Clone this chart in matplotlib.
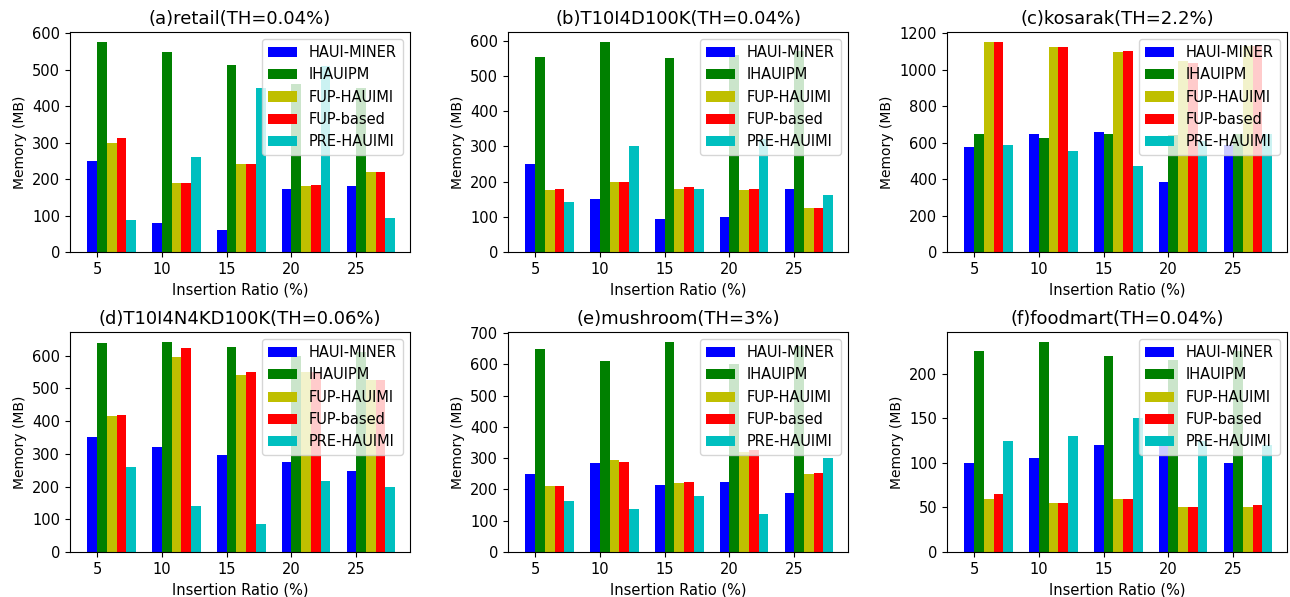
import matplotlib
matplotlib.use("Agg")
import matplotlib.pyplot as plt
from matplotlib.ticker import MultipleLocator
import numpy as np

# ---------- data ----------
ratios = [5, 10, 15, 20, 25]
methods = ["HAUI-MINER", "IHAUIPM", "FUP-HAUIMI", "FUP-based", "PRE-HAUIMI"]
colors = ["b", "g", "y", "r", "c"]

titles = [
    "(a)retail(TH=0.04%)",
    "(b)T10I4D100K(TH=0.04%)",
    "(c)kosarak(TH=2.2%)",
    "(d)T10I4N4KD100K(TH=0.06%)",
    "(e)mushroom(TH=3%)",
    "(f)foodmart(TH=0.04%)",
]

# one list per method, rows follow `methods`
retail = [
    [250, 80, 60, 172, 180],
    [575, 550, 512, 460, 450],
    [300, 190, 242, 180, 220],
    [312, 190, 242, 185, 220],
    [87, 260, 450, 510, 92],
]
t10i4d100k = [
    [250, 150, 95, 100, 180],
    [555, 595, 552, 560, 570],
    [175, 200, 180, 175, 125],
    [180, 200, 185, 180, 125],
    [142, 300, 180, 320, 162],
]
kosarak = [
    [575, 650, 660, 385, 590],
    [650, 625, 650, 640, 645],
    [1150, 1125, 1100, 1050, 1130],
    [1150, 1125, 1105, 1040, 1130],
    [590, 555, 470, 610, 645],
]
t10i4n4kd100k = [
    [350, 320, 297, 275, 248],
    [637, 640, 625, 600, 610],
    [415, 595, 540, 550, 525],
    [420, 622, 550, 550, 525],
    [260, 140, 85, 218, 200],
]
mushroom = [
    [250, 285, 213, 225, 188],
    [650, 610, 670, 600, 660],
    [210, 295, 220, 320, 250],
    [210, 288, 225, 325, 253],
    [163, 138, 178, 120, 300],
]
foodmart = [
    [100, 105, 120, 120, 100],
    [225, 235, 220, 215, 225],
    [60, 55, 60, 50, 50],
    [65, 55, 60, 50, 53],
    [125, 130, 150, 125, 120],
]
datasets = [retail, t10i4d100k, kosarak, t10i4n4kd100k, mushroom, foodmart]
ytick_step = [None, None, None, None, 100, None]

# ---------- figure ----------
fig = plt.figure(figsize=(12.9, 5.97), dpi=100)

W, H = 1290, 597
col_left = [70, 508, 947]
row_top = [32, 332]
ax_w, ax_h = 340, 220

width = 0.75
x = np.array(ratios, dtype=float)

for k, (title, data) in enumerate(zip(titles, datasets)):
    r, c = divmod(k, 3)
    ax = fig.add_axes([col_left[c] / W, 1 - (row_top[r] + ax_h) / H, ax_w / W, ax_h / H])
    for i, (name, vals) in enumerate(zip(methods, data)):
        ax.bar(x + (i - 1) * width, vals, width, align="edge", color=colors[i], label=name)
    ax.set_xticks(ratios)
    ax.set_xlim(2.9, 29.15)
    if ytick_step[k]:
        ax.yaxis.set_major_locator(MultipleLocator(ytick_step[k]))
    ax.set_title(title, fontsize=13)
    ax.set_xlabel("Insertion Ratio (%)", fontsize=10.5)
    ax.set_ylabel("Memory (MB)", fontsize=10)
    ax.tick_params(labelsize=10.5)
    ax.legend(loc="upper right", fontsize=10.5)

fig.savefig("out.png", dpi=100)
